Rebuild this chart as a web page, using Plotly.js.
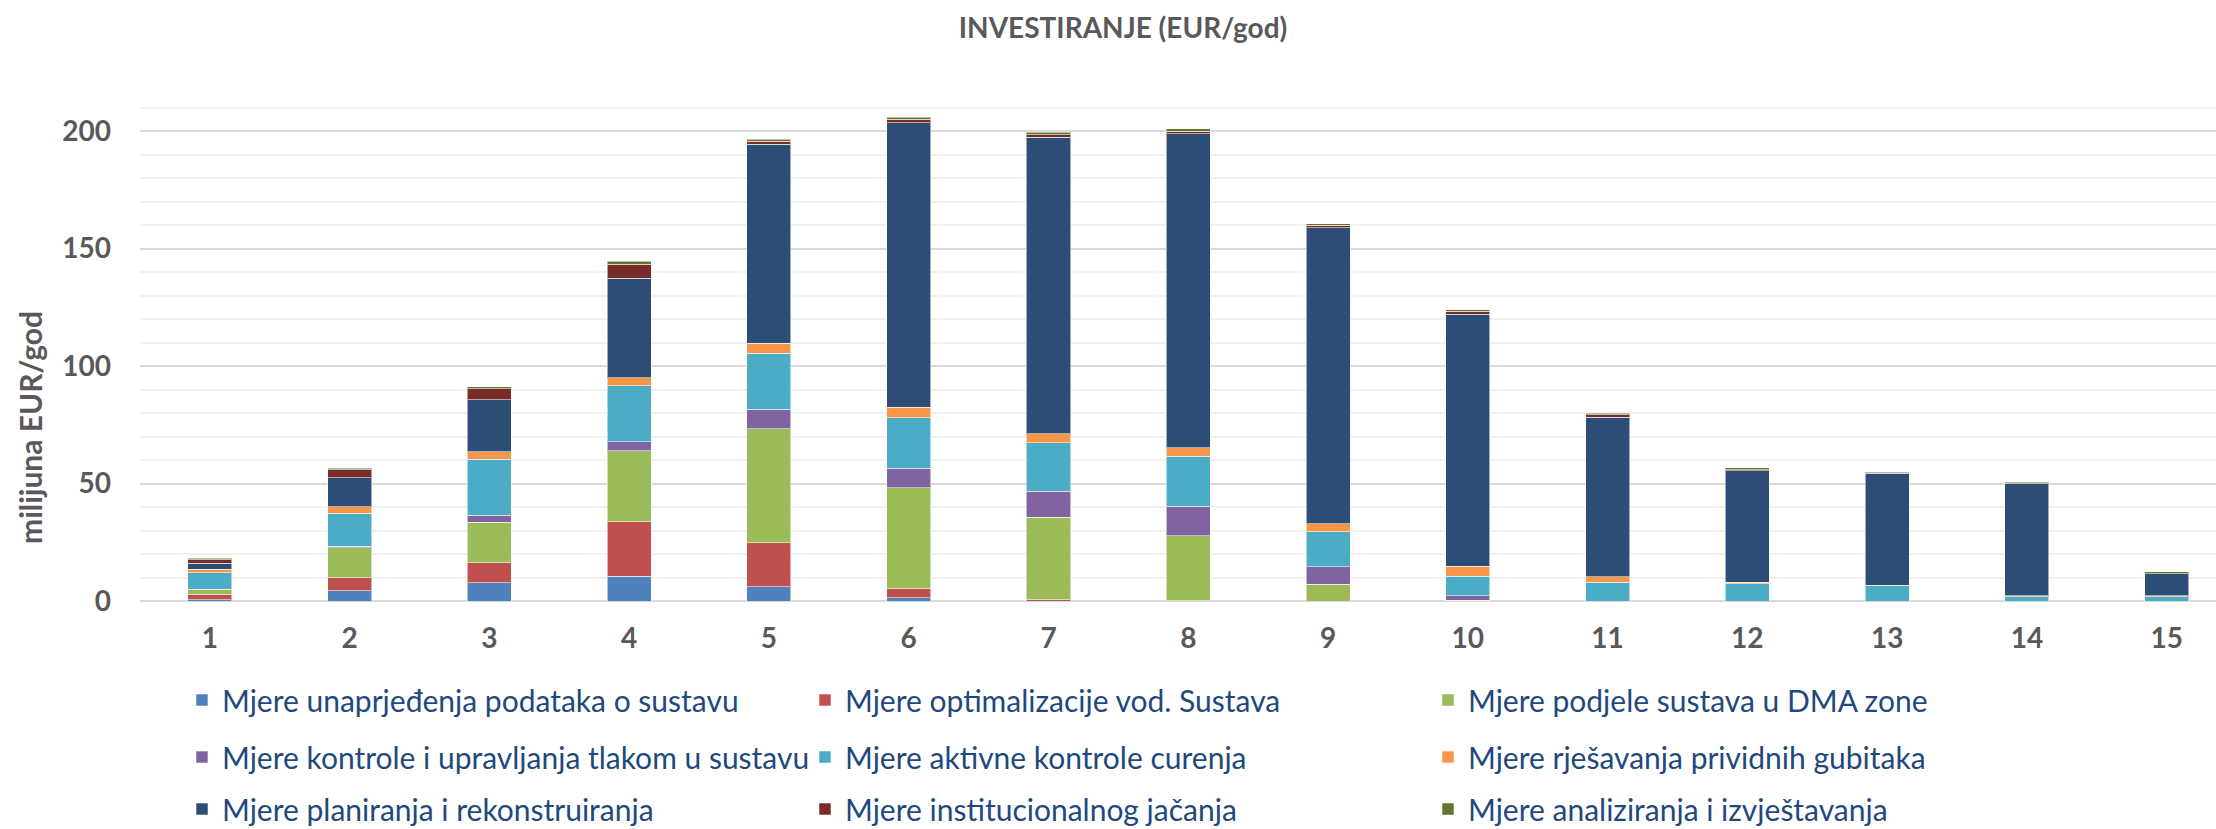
<!DOCTYPE html>
<html>
<head>
<meta charset="utf-8">
<script src="https://cdn.plot.ly/plotly-3.0.1.min.js"></script>
<style>
  html, body { margin: 0; padding: 0; background: #fff; }
  #plot { width: 2216px; height: 829px; }
</style>
</head>
<body>
<div id="plot"></div>
<script>
// godine (x os)
var godine = [1, 2, 3, 4, 5, 6, 7, 8, 9, 10, 11, 12, 13, 14, 15];

// nazivi mjera
var nazivi = [
    "Mjere unaprjeđenja podataka o sustavu",
    "Mjere optimalizacije vod. Sustava",
    "Mjere podjele sustava u DMA zone",
    "Mjere kontrole i upravljanja tlakom u sustavu",
    "Mjere aktivne kontrole curenja",
    "Mjere rješavanja prividnih gubitaka",
    "Mjere planiranja i rekonstruiranja",
    "Mjere institucionalnog jačanja",
    "Mjere analiziranja i izvještavanja"
];

// vrijednosti u milijunima EUR/god, ocitano sa slike
var unaprjedenje    = [0.5, 4.4, 7.8, 10.5, 6.1, 1.4, 0, 0, 0, 0, 0, 0, 0, 0, 0];
var optimalizacija  = [2.4, 5.4, 8.5, 23.2, 18.6, 3.9, 0.6, 0.1, 0, 0.3, 0, 0, 0, 0, 0];
var dmaZone         = [2.0, 12.8, 17.2, 30.2, 48.5, 42.9, 35.1, 27.7, 7.1, 0, 0, 0, 0, 0, 0];
var tlak            = [0.2, 0.8, 2.9, 3.8, 8.5, 8.3, 11.1, 12.6, 7.4, 2.0, 0, 0, 0, 0, 0];
var curenje         = [7.0, 14.0, 23.9, 23.9, 23.8, 21.5, 20.5, 21.1, 15.0, 8.2, 8.0, 7.4, 6.4, 1.8, 1.8];
var prividni        = [1.5, 2.8, 3.3, 3.3, 4.1, 4.4, 3.9, 3.8, 3.3, 4.2, 2.3, 0.6, 0.4, 0.5, 0.4];
var planiranje      = [2.4, 12.3, 22.0, 42.5, 84.8, 121.1, 126.1, 133.5, 126.1, 107.3, 68.0, 47.4, 47.6, 47.6, 9.3];
var institucionalno = [1.5, 3.4, 4.7, 5.9, 1.2, 1.5, 1.2, 1.2, 0.9, 1.2, 0.9, 0.4, 0.2, 0.1, 0.1];
var analiziranje    = [0.6, 0.5, 0.9, 1.2, 0.9, 0.8, 1.0, 0.9, 0.8, 0.8, 0.8, 0.8, 0.5, 0.6, 0.8];

var boje = ["#4F81BD", "#C0504D", "#9BBB59", "#8064A2", "#4BACC6", "#F79646", "#2C4D75", "#772C2A", "#5F7530"];

var serije = [unaprjedenje, optimalizacija, dmaZone, tlak, curenje, prividni, planiranje, institucionalno, analiziranje];
var legende = ["legend", "legend", "legend", "legend2", "legend2", "legend2", "legend3", "legend3", "legend3"];

// jedan trace po mjeri
var plot_data = serije.map(function (vrijednosti, i) {
    return {
        x: godine,
        y: vrijednosti,
        type: "bar",
        name: nazivi[i],
        legend: legende[i],
        marker: { color: boje[i], line: { color: "rgba(255,255,255,0.55)", width: 1 } },
        hovertemplate: "%{y}<extra>" + nazivi[i] + "</extra>"
    };
});

var legendFont = { family: "Lato, sans-serif", size: 30, color: "#1F497D" };

// tri reda legende, svaki s tri stupca
function legenda(y) {
    return {
        orientation: "h",
        xref: "container", yref: "container",
        x: 182 / 2216, y: y,
        xanchor: "left", yanchor: "middle",
        entrywidth: 578, entrywidthmode: "pixels",
        font: legendFont,
        traceorder: "normal"
    };
}

var sivo = "#595959";

var layout = {
    width: 2216,
    height: 829,
    margin: { l: 140, r: 0, t: 84, b: 228 },
    paper_bgcolor: "#fff",
    plot_bgcolor: "#fff",
    barmode: "stack",
    bargap: 0.685,
    showlegend: true,
    title: {
        text: "INVESTIRANJE (EUR/god)",
        font: { family: "Lato, sans-serif", size: 28, weight: "bold", color: sivo },
        xref: "container", yref: "container",
        x: 1123 / 2216, y: 1 - 28 / 829,
        xanchor: "center", yanchor: "middle"
    },
    xaxis: {
        range: [0.5, 15.353],
        tickvals: godine,
        showgrid: false,
        zeroline: false,
        showline: false,
        ticks: "",
        ticklabelstandoff: 18,
        tickfont: { family: "Lato, sans-serif", size: 28, weight: "bold", color: sivo }
    },
    yaxis: {
        range: [0, 220],
        dtick: 50,
        gridcolor: "#D9D9D9",
        gridwidth: 1.5,
        zeroline: true,
        zerolinecolor: "#D9D9D9",
        zerolinewidth: 2,
        ticks: "",
        ticklabelstandoff: 28,
        minor: { dtick: 10, showgrid: true, gridcolor: "#F0F0F0", gridwidth: 1.5 },
        tickfont: { family: "Lato, sans-serif", size: 28, weight: "bold", color: sivo },
        automargin: false
    },
    // naslov y osi (malo ispod sredine, kao u izvorniku)
    annotations: [{
        text: "milijuna EUR/god",
        textangle: -90,
        xref: "paper", yref: "paper",
        x: (30 - 140) / 2076, y: (601 - 428) / 517,
        xanchor: "center", yanchor: "middle",
        showarrow: false,
        font: { family: "Lato, sans-serif", size: 30, weight: "bold", color: sivo }
    }],
    legend: legenda(1 - 700 / 829),
    legend2: legenda(1 - 757 / 829),
    legend3: legenda(1 - 809 / 829)
};

Plotly.newPlot("plot", plot_data, layout, { displayModeBar: false });
</script>
</body>
</html>
